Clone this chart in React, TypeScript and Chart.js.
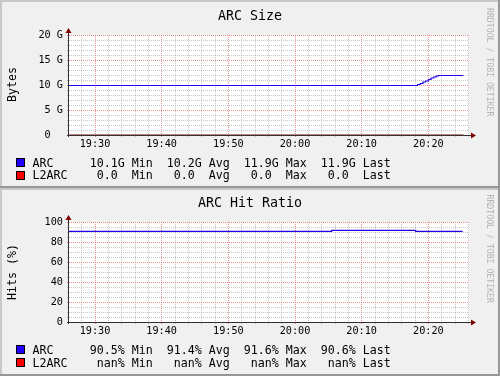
import React, { useEffect, useRef } from 'react';
import { Chart, registerables } from 'chart.js';

Chart.register(...registerables);

// ---------- data ----------
const windowStart = '19:26:06';
const windowEnd = '20:26:06';
const timeTickLabels = ['19:30', '19:40', '19:50', '20:00', '20:10', '20:20'];

// ARC Size panel (GB)
const arcSizeTimes = ['19:26:06', '20:18:24', '20:18:48', '20:19:12', '20:19:36', '20:20:00', '20:20:24', '20:20:48', '20:21:12', '20:21:30', '20:25:15'];
const arcSizeValues = [9.9, 10.1, 10.3, 10.6, 10.8, 11.1, 11.4, 11.6, 11.8, 11.9, 11.9];
const l2arcSizeTimes = ['19:26:06', '20:25:15'];
const l2arcSizeValues = [0, 0];
const sizeTickValues = [0, 5, 10, 15, 20];
const sizeTickLabels = ['0  ', '5 G', '10 G', '15 G', '20 G'];
const sizeLegendStats = [
  '10.1G Min  10.2G Avg  11.9G Max  11.9G Last',
  ' 0.0  Min   0.0  Avg   0.0  Max   0.0  Last',
];

// ARC Hit Ratio panel (%)
const arcHitTimes = ['19:26:06', '20:05:30', '20:18:06', '20:25:09'];
const arcHitValues = [90.6, 91.6, 90.6, 90.6];
const l2arcHitTimes: string[] = [];
const l2arcHitValues: number[] = [];
const hitTickValues = [0, 20, 40, 60, 80, 100];
const hitTickLabels = ['0', '20', '40', '60', '80', '100'];
const hitLegendStats = [
  '90.5% Min  91.4% Avg  91.6% Max  90.6% Last',
  ' nan% Min   nan% Avg   nan% Max   nan% Last',
];

const seriesNames = ['ARC', 'L2ARC'];
const seriesColors = ['#2200FF', '#FF0000'];
const seriesLineColors = ['#2000e8', '#8a0000'];
const watermark = 'RRDTOOL / TOBI OETIKER';

// ---------- style ----------
const W = 500;
const H = 188;
const MONO = '"DejaVu Sans Mono", monospace';
const BACK = '#f0f0f0';
const CANVAS = '#ffffff';
const SHADEA = '#c8c8c8';
const SHADEB = '#969696';
const GRID = 'rgba(143,143,143,0.5)';
const MGRID = 'rgba(225,75,75,0.62)';
const AXIS = '#303030';
const ARROW = '#800000';

const toMin = (t: string) => {
  const [h, m, s] = t.split(':').map(Number);
  return h * 60 + m + (s || 0) / 60;
};

type Series = { times: string[]; values: number[]; color: string; line: string };
type PanelCfg = {
  title: string;
  unit: string;
  plotTop: number;
  plotBottom: number;
  titleBase: number;
  unitCenter: number;
  wmTop: number;
  legendBase: number[];
  yMax: number;
  yMinorStep: number;
  yTickValues: number[];
  yTickLabels: string[];
  series: Series[];
  legendStats: string[];
};

const panels: PanelCfg[] = [
  {
    title: 'ARC Size',
    unit: 'Bytes',
    plotTop: 35,
    plotBottom: 135,
    titleBase: 20,
    unitCenter: 84.5,
    wmTop: 8,
    legendBase: [166.5, 179],
    yMax: 20,
    yMinorStep: 1,
    yTickValues: sizeTickValues,
    yTickLabels: sizeTickLabels,
    series: [
      { times: arcSizeTimes, values: arcSizeValues, color: seriesColors[0], line: seriesLineColors[0] },
      { times: l2arcSizeTimes, values: l2arcSizeValues, color: seriesColors[1], line: seriesLineColors[1] },
    ],
    legendStats: sizeLegendStats,
  },
  {
    title: 'ARC Hit Ratio',
    unit: 'Hits (%)',
    plotTop: 34,
    plotBottom: 134,
    titleBase: 19,
    unitCenter: 84,
    wmTop: 6.5,
    legendBase: [165.5, 178.5],
    yMax: 100,
    yMinorStep: 5,
    yTickValues: hitTickValues,
    yTickLabels: hitTickLabels,
    series: [
      { times: arcHitTimes, values: arcHitValues, color: seriesColors[0], line: seriesLineColors[0] },
      { times: l2arcHitTimes, values: l2arcHitValues, color: seriesColors[1], line: seriesLineColors[1] },
    ],
    legendStats: hitLegendStats,
  },
];

const xMin = toMin(windowStart);
const xMax = toMin(windowEnd);
const xMajor = timeTickLabels.map(toMin);

function makeChart(canvas: HTMLCanvasElement, cfg: PanelCfg) {
  const xMinor: number[] = [];
  for (let v = Math.ceil(xMin / 2) * 2; v <= xMax; v += 2) xMinor.push(v);
  const yMinor: number[] = [];
  for (let v = 0; v <= cfg.yMax + 1e-9; v += cfg.yMinorStep) yMinor.push(v);

  const plugin = {
    id: 'rrdPanel',
    beforeDraw(chart: any) {
      const ctx = chart.ctx as CanvasRenderingContext2D;
      const { left, right, top, bottom } = chart.chartArea;
      ctx.save();
      ctx.fillStyle = BACK;
      ctx.fillRect(0, 0, W, H);
      ctx.fillStyle = SHADEA;
      ctx.fillRect(0, 0, W, 2);
      ctx.fillRect(0, 0, 2, H);
      ctx.fillStyle = SHADEB;
      ctx.fillRect(0, H - 2, W, 2);
      ctx.fillRect(W - 2, 0, 2, H);
      ctx.fillStyle = CANVAS;
      ctx.fillRect(left, top, right - left, bottom - top);
      ctx.restore();
    },
    beforeDatasetsDraw(chart: any) {
      const ctx = chart.ctx as CanvasRenderingContext2D;
      const { left, right, top, bottom } = chart.chartArea;
      const ax = left - 0.5;
      const ay = bottom + 0.5;
      ctx.save();
      ctx.strokeStyle = AXIS;
      ctx.lineWidth = 1;
      ctx.beginPath();
      ctx.moveTo(left - 2, ay);
      ctx.lineTo(right + 2, ay);
      ctx.moveTo(ax, bottom + 2);
      ctx.lineTo(ax, top - 2);
      ctx.stroke();
      ctx.fillStyle = ARROW;
      ctx.beginPath();
      ctx.moveTo(right + 2, ay - 3);
      ctx.lineTo(right + 7, ay);
      ctx.lineTo(right + 2, ay + 3);
      ctx.closePath();
      ctx.fill();
      ctx.beginPath();
      ctx.moveTo(ax - 3, top - 2);
      ctx.lineTo(ax, top - 7);
      ctx.lineTo(ax + 3, top - 2);
      ctx.closePath();
      ctx.fill();
      ctx.restore();
    },
    afterDraw(chart: any) {
      const ctx = chart.ctx as CanvasRenderingContext2D;
      ctx.save();
      ctx.fillStyle = '#000';
      ctx.textBaseline = 'alphabetic';
      // title
      ctx.font = `13.3px ${MONO}`;
      ctx.textAlign = 'center';
      ctx.fillText(cfg.title, 250, cfg.titleBase);
      // unit
      ctx.font = `11.63px ${MONO}`;
      ctx.save();
      ctx.translate(15.5, cfg.unitCenter);
      ctx.rotate(-Math.PI / 2);
      ctx.textAlign = 'center';
      ctx.fillText(cfg.unit, 0, 0);
      ctx.restore();
      // legend
      ctx.textAlign = 'left';
      cfg.legendStats.forEach((stats, i) => {
        const base = cfg.legendBase[i];
        const bt = Math.floor(base) - 8;
        ctx.fillStyle = '#000';
        ctx.fillRect(16, bt, 9, 9);
        ctx.fillStyle = cfg.series[i].color;
        ctx.fillRect(17, bt + 1, 7, 7);
        ctx.fillStyle = '#000';
        ctx.fillText(seriesNames[i], 32.5, base);
        ctx.fillText(stats, 89.7, base);
      });
      // watermark
      ctx.fillStyle = '#b4b4b4';
      ctx.font = `8.2px ${MONO}`;
      ctx.translate(487.3, cfg.wmTop);
      ctx.rotate(Math.PI / 2);
      ctx.textAlign = 'left';
      ctx.fillText(watermark, 0, 0);
      ctx.restore();
    },
  };

  return new Chart(canvas, {
    type: 'line',
    data: {
      datasets: cfg.series.map((s, i) => ({
        label: seriesNames[i],
        data: s.times.map((t, j) => ({ x: toMin(t), y: s.values[j] })),
        borderColor: s.line,
        backgroundColor: s.color,
        borderWidth: 1.2,
        pointRadius: 0,
        stepped: 'before' as const,
        fill: false,
        tension: 0,
      })),
    },
    options: {
      animation: false,
      responsive: false,
      devicePixelRatio: 1,
      layout: { padding: { left: 0, top: cfg.plotTop, right: 31, bottom: 0 } },
      plugins: {
        legend: { display: false },
        title: { display: false },
        tooltip: { enabled: false },
      },
      scales: {
        x: {
          type: 'linear',
          min: xMin,
          max: xMax,
          afterBuildTicks: (s: any) => {
            s.ticks = xMinor.map((v) => ({ value: v }));
          },
          afterFit: (s: any) => {
            s.height = H - cfg.plotBottom;
          },
          ticks: {
            autoSkip: false,
            maxRotation: 0,
            minRotation: 0,
            padding: 1,
            color: '#000',
            font: { family: MONO, size: 10.2 },
            callback: (v: any) => {
              const i = xMajor.findIndex((m) => Math.abs(m - Number(v)) < 1e-6);
              return i >= 0 ? timeTickLabels[i] : '';
            },
          },
          grid: {
            color: (c: any) =>
              c.tick && xMajor.some((m) => Math.abs(m - c.tick.value) < 1e-6) ? MGRID : GRID,
            lineWidth: 1,
            drawTicks: true,
            tickLength: 2,
          },
          border: { display: false, dash: [1, 1] },
        },
        y: {
          type: 'linear',
          min: 0,
          max: cfg.yMax,
          afterBuildTicks: (s: any) => {
            s.ticks = yMinor.map((v) => ({ value: v }));
          },
          afterFit: (s: any) => {
            s.width = 69;
          },
          ticks: {
            autoSkip: false,
            padding: 4,
            color: '#000',
            font: { family: MONO, size: 10.2 },
            callback: (v: any) => {
              const i = cfg.yTickValues.findIndex((m) => Math.abs(m - Number(v)) < 1e-6);
              return i >= 0 ? cfg.yTickLabels[i] : '';
            },
          },
          grid: {
            color: (c: any) =>
              c.tick && cfg.yTickValues.some((m) => Math.abs(m - c.tick.value) < 1e-6) ? MGRID : GRID,
            lineWidth: 1,
            drawTicks: true,
            tickLength: 2,
          },
          border: { display: false, dash: [1, 1] },
        },
      },
    } as any,
    plugins: [plugin],
  });
}

export default function App() {
  const ref1 = useRef<HTMLCanvasElement>(null);
  const ref2 = useRef<HTMLCanvasElement>(null);

  useEffect(() => {
    const charts: Chart[] = [];
    if (ref1.current) charts.push(makeChart(ref1.current, panels[0]));
    if (ref2.current) charts.push(makeChart(ref2.current, panels[1]));
    return () => charts.forEach((c) => c.destroy());
  }, []);

  return (
    <div style={{ position: 'absolute', left: 0, top: 0, width: W, height: H * 2, background: BACK }}>
      <canvas ref={ref1} width={W} height={H} style={{ display: 'block', width: W, height: H }} />
      <canvas ref={ref2} width={W} height={H} style={{ display: 'block', width: W, height: H }} />
    </div>
  );
}
